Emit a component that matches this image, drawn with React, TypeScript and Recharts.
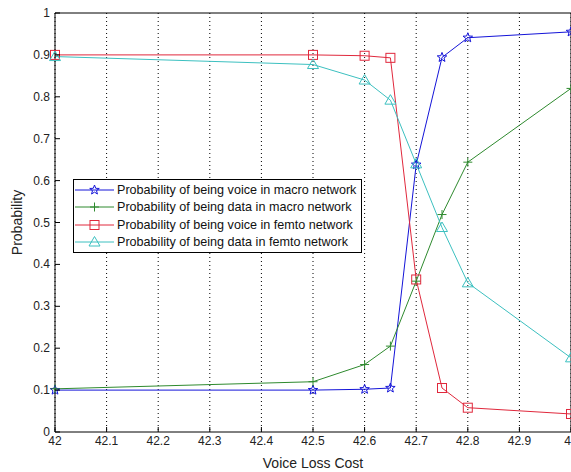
import React from "react";
import {
  LineChart,
  Line,
  XAxis,
  YAxis,
  CartesianGrid,
  ReferenceLine,
} from "recharts";

const costs = [42, 42.5, 42.6, 42.65, 42.7, 42.75, 42.8, 43];
const voiceMacro = [0.1, 0.1, 0.102, 0.105, 0.638, 0.894, 0.941, 0.955];
const dataMacro = [0.103, 0.12, 0.161, 0.205, 0.36, 0.519, 0.644, 0.82];
const voiceFemto = [0.9, 0.9, 0.898, 0.893, 0.364, 0.105, 0.058, 0.043];
const dataFemto = [0.896, 0.877, 0.84, 0.792, 0.64, 0.488, 0.356, 0.177];

const xTicks = [42, 42.1, 42.2, 42.3, 42.4, 42.5, 42.6, 42.7, 42.8, 42.9, 43];
const yTicks = [0, 0.1, 0.2, 0.3, 0.4, 0.5, 0.6, 0.7, 0.8, 0.9, 1];

const seriesNames = [
  "Probability of being voice in macro network",
  "Probability of being data in macro network",
  "Probability of being voice in femto network",
  "Probability of being data in femto network",
];

const chartData = costs.map((c, i) => ({
  cost: c,
  vm: voiceMacro[i],
  dm: dataMacro[i],
  vf: voiceFemto[i],
  df: dataFemto[i],
}));

const BLUE = "#1414d8";
const GREEN = "#2e8a2e";
const RED = "#e0283c";
const CYAN = "#3cc0c0";
const FONT = "'Liberation Sans', Arial, sans-serif";

type Shape = "star" | "plus" | "square" | "triangle";

const marker = (shape: Shape, cx: number, cy: number, color: string) => {
  if (shape === "star") {
    const pts: string[] = [];
    for (let k = 0; k < 10; k++) {
      const r = k % 2 === 0 ? 5 : 2.1;
      const a = -Math.PI / 2 + (k * Math.PI) / 5;
      pts.push(`${cx + r * Math.cos(a)},${cy + r * Math.sin(a)}`);
    }
    return <polygon points={pts.join(" ")} fill="none" stroke={color} strokeWidth={1} />;
  }
  if (shape === "plus") {
    return (
      <g stroke={color} strokeWidth={1}>
        <line x1={cx - 4.5} y1={cy} x2={cx + 4.5} y2={cy} />
        <line x1={cx} y1={cy - 4.5} x2={cx} y2={cy + 4.5} />
      </g>
    );
  }
  if (shape === "square") {
    return <rect x={cx - 4.5} y={cy - 4.5} width={9} height={9} fill="none" stroke={color} strokeWidth={1} />;
  }
  return (
    <polygon
      points={`${cx},${cy - 5.5} ${cx - 5.5},${cy + 4} ${cx + 5.5},${cy + 4}`}
      fill="none"
      stroke={color}
      strokeWidth={1}
    />
  );
};

const dotRenderer = (shape: Shape, color: string) => (props: any) =>
  <g key={`${shape}-${props.index}`}>{marker(shape, props.cx, props.cy, color)}</g>;

const series = [
  { key: "vm", color: BLUE, shape: "star" as Shape },
  { key: "dm", color: GREEN, shape: "plus" as Shape },
  { key: "vf", color: RED, shape: "square" as Shape },
  { key: "df", color: CYAN, shape: "triangle" as Shape },
];

const LeftTick = (props: any) => {
  const { x, y, payload } = props;
  return (
    <g>
      <line x1={x + 5} y1={y} x2={x + 10} y2={y} stroke="#000" />
      <text x={x} y={y} dy={4} textAnchor="end" fontSize={12} fontFamily={FONT} fill="#222">
        {payload.value}
      </text>
    </g>
  );
};

const BottomTick = (props: any) => {
  const { x, y, payload } = props;
  return (
    <g>
      <line x1={x} y1={y - 4} x2={x} y2={y - 9} stroke="#000" />
      <text x={x} y={y} dy={9} textAnchor="middle" fontSize={12} fontFamily={FONT} fill="#222">
        {payload.value}
      </text>
    </g>
  );
};

const LegendBox = () => (
  <div
    style={{
      position: "absolute",
      left: 73,
      top: 179,
      border: "1px solid #000",
      background: "#fff",
      padding: "1px 5px 1px 0",
      fontFamily: FONT,
      fontSize: 12.6,
      color: "#111",
    }}
  >
    {series.map((s, i) => (
      <div key={s.key} style={{ display: "flex", alignItems: "center", height: 17.5 }}>
        <svg width={42} height={14} style={{ marginRight: 1 }}>
          <line x1={1} y1={7} x2={40} y2={7} stroke={s.color} />
          {marker(s.shape, 20.5, 7, s.color)}
        </svg>
        <span style={{ whiteSpace: "nowrap" }}>{seriesNames[i]}</span>
      </div>
    ))}
  </div>
);

export default function App() {
  return (
    <div
      style={{
        position: "absolute",
        left: 0,
        top: 0,
        width: 571,
        height: 472,
        overflow: "hidden",
        background: "#fff",
      }}
    >
      <LineChart
        width={600}
        height={472}
        data={chartData}
        margin={{ top: 13, right: 29, bottom: 0, left: 25 }}
      >
        <CartesianGrid horizontal={false} stroke="#000" strokeDasharray="1 3" />
        <XAxis
          dataKey="cost"
          type="number"
          domain={[42, 43]}
          ticks={xTicks}
          interval={0}
          height={40}
          axisLine={{ stroke: "#000" }}
          tickLine={false}
          tickSize={0}
          tickMargin={4}
          tick={<BottomTick />}
          label={{
            value: "Voice Loss Cost",
            position: "insideBottom",
            offset: 4,
            fontSize: 14,
            fontFamily: FONT,
            fill: "#222",
          }}
        />
        <YAxis
          type="number"
          domain={[0, 1]}
          ticks={yTicks}
          interval={0}
          width={30}
          axisLine={{ stroke: "#000" }}
          tickLine={false}
          tickSize={0}
          tickMargin={5}
          tick={<LeftTick />}
          label={{
            value: "Probability",
            angle: -90,
            position: "insideLeft",
            offset: -8,
            fontSize: 14,
            fontFamily: FONT,
            fill: "#222",
            style: { textAnchor: "middle" },
          }}
        />
        <YAxis
          yAxisId="right"
          orientation="right"
          type="number"
          domain={[0, 1]}
          ticks={yTicks}
          interval={0}
          width={0}
          mirror
          axisLine={{ stroke: "#000" }}
          tickLine={{ stroke: "#000" }}
          tickSize={5}
          tick={() => <g />}
        />
        <ReferenceLine y={1} stroke="#000" />
        <ReferenceLine x={43} stroke="#000" />
        {series.map((s, i) => (
          <Line
            key={s.key}
            dataKey={s.key}
            name={seriesNames[i]}
            stroke={s.color}
            strokeWidth={1}
            dot={dotRenderer(s.shape, s.color)}
            activeDot={false}
            isAnimationActive={false}
          />
        ))}
      </LineChart>
      <LegendBox />
    </div>
  );
}
